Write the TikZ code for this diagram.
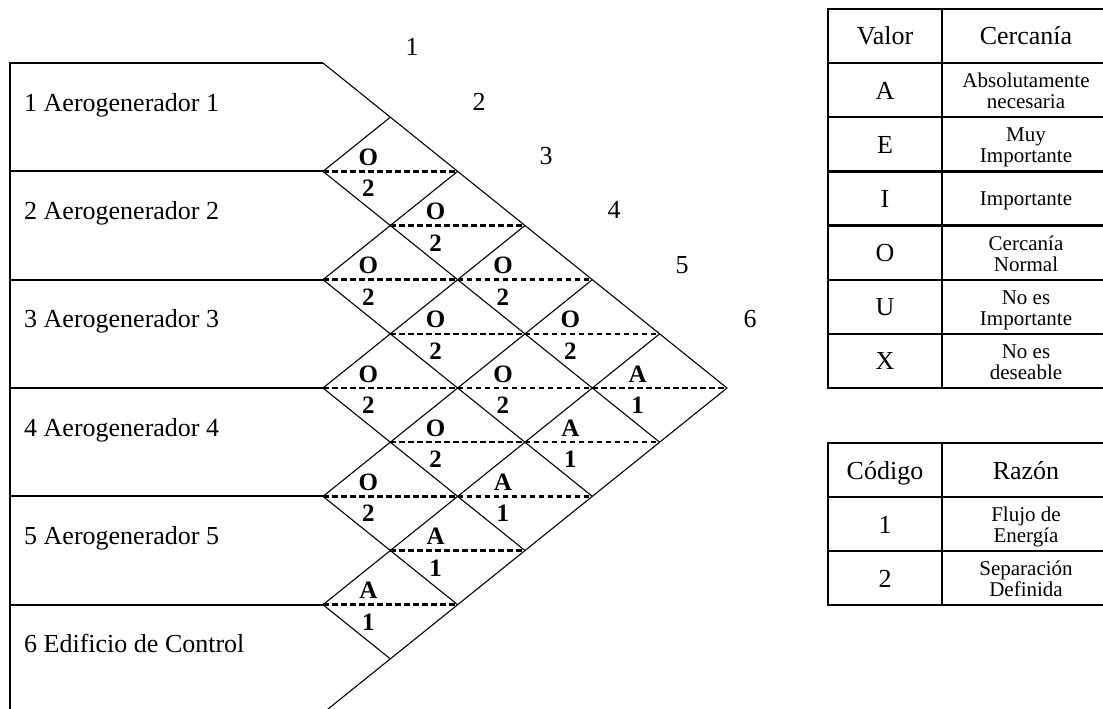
\documentclass[tikz,border=0pt]{standalone}
\usepackage{fontspec}
\setmainfont{Liberation Serif}
\begin{document}
\begin{tikzpicture}[x=1pt,y=-1pt,
  diagline/.style={line width=1.1pt},
  gridline/.style={line width=2.2pt},
  dashline/.style={line width=2.5pt, dash pattern=on 5.5pt off 3.5pt},
  bigtext/.style={font=\fontsize{26}{28}\selectfont, inner sep=0pt, anchor=base},
  smalltext/.style={font=\fontsize{21}{22}\selectfont, inner sep=0pt, anchor=base},
  reltext/.style={font=\fontsize{25}{27}\selectfont\bfseries, inner sep=0pt, anchor=base}]
\useasboundingbox (0,0) rectangle (1103,709);

% lattice of the relationship chart
\foreach \k in {0,...,6}{\foreach \m in {0,...,12}{
  \coordinate (v\k-\m) at ({323+67.33*\k},{63+54.17*\m});}}
\coordinate (lft) at (10,63);
\coordinate (bot) at (10,716);

% left block
\draw[gridline] (bot) -- (lft) -- (v0-0);
\foreach \n in {2,4,6,8,10}{\draw[gridline] (lft |- v0-\n) -- (v0-\n);}

% dashed mid-lines and labels
\foreach \i/\j/\L/\C in {1/2/O/2,1/3/O/2,1/4/O/2,1/5/O/2,1/6/A/1,
  2/3/O/2,2/4/O/2,2/5/O/2,2/6/A/1,3/4/O/2,3/5/O/2,3/6/A/1,4/5/O/2,4/6/A/1,5/6/A/1}{
  \pgfmathtruncatemacro\k{\j-\i}
  \pgfmathtruncatemacro\m{\i+\j-1}
  \pgfmathtruncatemacro\ka{\k-1}
  \pgfmathtruncatemacro\kb{\k+1}
  \draw[dashline] (v\ka-\m) -- (v\kb-\m);
  \node[reltext] (let\i\j) at ([xshift=-22pt,yshift=6pt]v\k-\m) {\L};
  \node[reltext] (cod\i\j) at ([xshift=-22pt,yshift=-25.5pt]v\k-\m) {\C};
}

% diagonals
\draw[diagline] (v0-0) -- (v6-6) -- (v0-12);
\foreach \n in {1,...,5}{
  \pgfmathtruncatemacro\a{2*\n}
  \pgfmathtruncatemacro\b{6-\n}
  \pgfmathtruncatemacro\c{6+\n}
  \draw[diagline] (v\n-\n) -- (v0-\a) -- (v\b-\c);
}

% row labels
\node[bigtext,anchor=base west] (row1) at (24,111) {1 Aerogenerador 1};
\node[bigtext,anchor=base west] (row2) at (24,219.3) {2 Aerogenerador 2};
\node[bigtext,anchor=base west] (row3) at (24,327.7) {3 Aerogenerador 3};
\node[bigtext,anchor=base west] (row4) at (24,436) {4 Aerogenerador 4};
\node[bigtext,anchor=base west] (row5) at (24,544.3) {5 Aerogenerador 5};
\node[bigtext,anchor=base west] (row6) at (24,652.7) {6 Edificio de Control};

% column numbers
\foreach \n/\x/\y in {1/412/47,2/479/102,3/546/156,4/614/210,5/682/265,6/750/319}{
  \node[bigtext,anchor=center] (col\n) at (\x,\y) {\n};}

% table 1
\draw[gridline] (828,9) rectangle (1112,388);
\draw[gridline] (942,9) -- (942,388);
\foreach \r in {1,...,6}{\draw[gridline] (828,{9+54.14*\r}) -- (1112,{9+54.14*\r});}
\node[bigtext] (hval) at (885,45) {Valor};
\node[bigtext] (hcer) at (1026,45) {Cercanía};
\foreach \r/\V/\la/\lb in {1/A/Absolutamente/necesaria,2/E/Muy/Importante,
  4/O/Cercanía/Normal,5/U/No es/Importante,6/X/No es/deseable}{
  \node[bigtext] (val\r) at (885,{9+54.14*\r+36}) {\V};
  \node[smalltext] (cera\r) at (1026,{9+54.14*\r+24.5}) {\la};
  \node[smalltext] (cerb\r) at (1026,{9+54.14*\r+45.5}) {\lb};
}
\node[bigtext] (val3) at (885,{9+54.14*3+36}) {I};
\node[smalltext] (cer3) at (1026,{9+54.14*3+34.5}) {Importante};

% table 2
\draw[gridline] (828,443) rectangle (1112,605);
\draw[gridline] (942,443) -- (942,605);
\draw[gridline] (828,497) -- (1112,497);
\draw[gridline] (828,551) -- (1112,551);
\node[bigtext] (hcod) at (885,479) {Código};
\node[bigtext] (hraz) at (1026,479) {Razón};
\node[bigtext] (code1) at (885,533) {1};
\node[smalltext] (raz1a) at (1026,521.5) {Flujo de};
\node[smalltext] (raz1b) at (1026,542.5) {Energía};
\node[bigtext] (code2) at (885,587) {2};
\node[smalltext] (raz2a) at (1026,575.5) {Separación};
\node[smalltext] (raz2b) at (1026,596.5) {Definida};
\end{tikzpicture}
\end{document}
